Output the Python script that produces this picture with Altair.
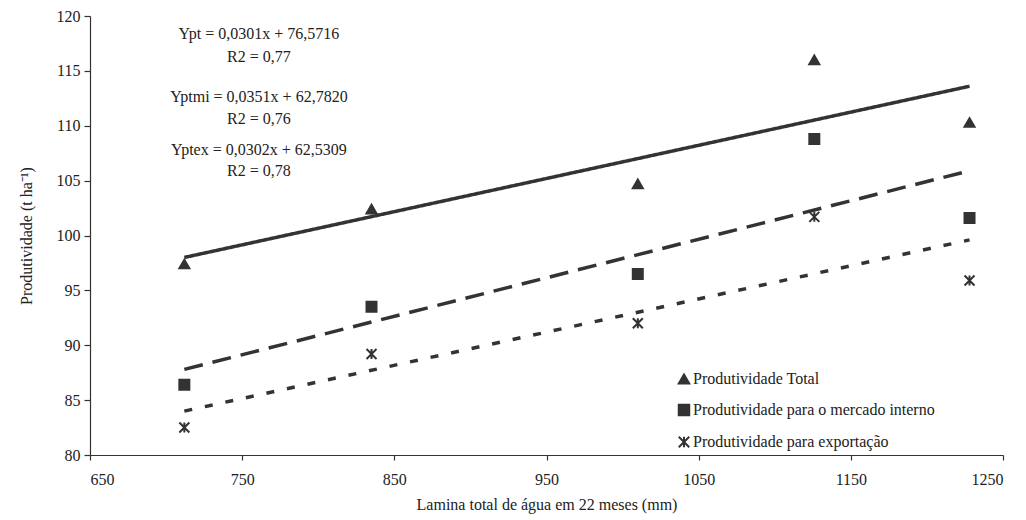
import altair as alt
import pandas as pd

# ---- data ----
lamina = [712, 835, 1010, 1126, 1228]
prod_total = [97.4, 102.4, 104.7, 116.0, 110.3]
prod_interno = [86.4, 93.5, 96.5, 108.8, 101.6]
prod_export = [82.5, 89.2, 92.0, 101.7, 95.9]

series = [
    "Produtividade Total",
    "Produtividade para o mercado interno",
    "Produtividade para exportação",
]
trend_names = ["Ypt", "Yptmi", "Yptex"]

trend_x = [712, 1228]
trend_total = [98.0, 113.6]
trend_interno = [87.8, 105.9]
trend_export = [84.0, 99.6]

eq_text = [
    "Ypt = 0,0301x + 76,5716",
    "R2 = 0,77",
    "Yptmi = 0,0351x + 62,7820",
    "R2 = 0,76",
    "Yptex = 0,0302x + 62,5309",
    "R2 = 0,78",
]
eq_y = [118.4, 116.3, 112.6, 110.6, 107.8, 105.9]
eq_x = [761] * 6

x_ticks = [650, 750, 850, 950, 1050, 1150, 1250]
y_ticks = [80, 85, 90, 95, 100, 105, 110, 115, 120]

# ---- tables ----
pts = pd.DataFrame({
    "x": lamina * 3,
    "y": prod_total + prod_interno + prod_export,
    "serie": [series[0]] * 5 + [series[1]] * 5 + [series[2]] * 5,
})
trend = pd.DataFrame({
    "x": trend_x * 3,
    "y": trend_total + trend_interno + trend_export,
    "tendencia": [trend_names[0]] * 2 + [trend_names[1]] * 2 + [trend_names[2]] * 2,
})
eqs = pd.DataFrame({"x": eq_x, "y": eq_y, "t": eq_text})

FONT = "Liberation Serif"
DARK = "#333333"
TXT = "#222222"
STAR = "M-1,-1L1,1M-1,1L1,-1M0,-1L0,1"

xs = alt.Scale(domain=[650, 1250], nice=False, zero=False)
ys = alt.Scale(domain=[80, 120], nice=False, zero=False)

xenc = alt.X("x:Q", scale=xs, axis=alt.Axis(
    values=x_ticks, title="Lamina total de água em 22 meses (mm)", format="d",
    tickSize=5, labelPadding=11, titlePadding=9))
yenc = alt.Y("y:Q", scale=ys, axis=alt.Axis(
    values=y_ticks, title="Produtividade (t ha⁻¹)", format="d",
    tickSize=6, labelPadding=4, titlePadding=22))

lines = alt.Chart(trend).mark_line(color=DARK, strokeWidth=3.5).encode(
    x=xenc, y=yenc,
    detail="tendencia:N",
    strokeDash=alt.StrokeDash("tendencia:N", scale=alt.Scale(
        domain=trend_names, range=[[1, 0], [19, 10], [8, 13]]), legend=None),
)

leg = alt.Legend(
    title=None, orient="none", legendX=586, legendY=355,
    labelFont=FONT, labelFontSize=16, labelColor=TXT, labelLimit=0,
    symbolSize=110, symbolStrokeWidth=2,
    symbolOpacity=1, rowPadding=12, labelOffset=1)

points = alt.Chart(pts).mark_point(filled=False, strokeWidth=2, opacity=1).encode(
    x=xenc, y=yenc,
    shape=alt.Shape("serie:N", scale=alt.Scale(
        domain=series, range=["triangle-up", "square", STAR]), legend=leg),
    fill=alt.Fill("serie:N", scale=alt.Scale(
        domain=series, range=[DARK, DARK, "transparent"]), legend=leg),
    stroke=alt.Stroke("serie:N", scale=alt.Scale(
        domain=series, range=[DARK, DARK, DARK]), legend=leg),
    size=alt.value(100),
)

texts = alt.Chart(eqs).mark_text(font=FONT, fontSize=16, color=TXT,
                                 align="center", baseline="middle").encode(
    x=alt.X("x:Q", scale=xs), y=alt.Y("y:Q", scale=ys), text="t:N")

chart = alt.layer(lines, points, texts).properties(
    width=913, height=439,
    autosize=alt.AutoSizeParams(type="none"),
    padding={"left": 82, "top": 8, "right": 15, "bottom": 62},
).configure_view(stroke=None).configure_axis(
    grid=False, domainColor=DARK, tickColor=DARK, labelColor=TXT,
    titleColor=TXT, labelFont=FONT, titleFont=FONT,
    labelFontSize=16, titleFontSize=16, titleFontWeight="normal",
    domainWidth=1.2, tickWidth=1.2,
)

chart.save("out.html", embed_options={"renderer": "svg", "actions": False})
